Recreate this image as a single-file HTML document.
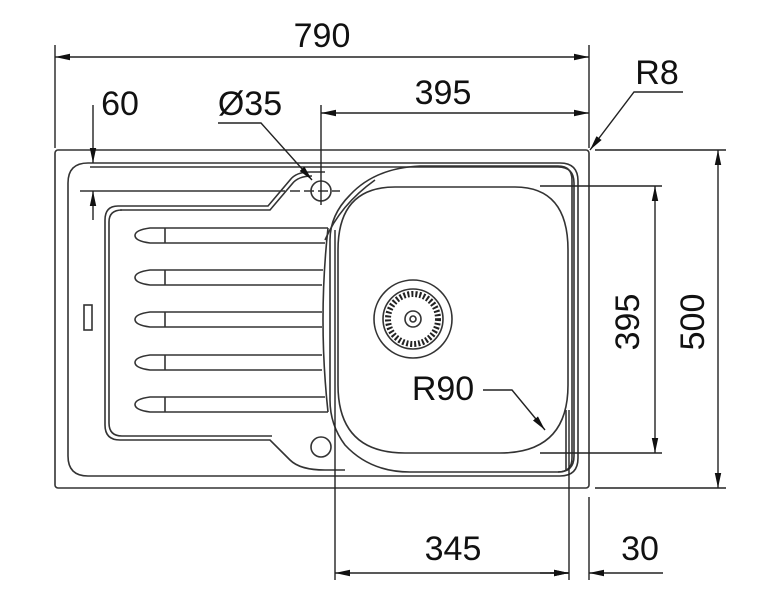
<!DOCTYPE html>
<html><head><style>
html,body{margin:0;padding:0;background:#fff;}
svg{display:block;}
text{font-family:"Liberation Sans",Arial,sans-serif;font-size:34px;fill:#111;}
</style></head><body>
<svg width="769" height="596" viewBox="0 0 769 596" xmlns="http://www.w3.org/2000/svg">
<defs>
<marker id="a" viewBox="0 0 14 6" refX="14" refY="3" markerWidth="15" markerHeight="7" markerUnits="userSpaceOnUse" orient="auto"><path d="M0,0 L14,3 L0,6 z" fill="#111"/></marker>
</defs>
<g fill="none" stroke="#333" stroke-width="1.6">
<rect x="55" y="150" width="534" height="338" rx="3"/>
<path d="M88,163 L560,163 Q578,163 578,181 L578,458 Q578,476 560,476 L88,476 Q68,476 68,456 L68,183 Q68,163 88,163 Z"/>
<path d="M90,167 L558,167 Q574,167 574,183 L574,456 Q574,472 558,472"/>
<path d="M118,206 L268,206 L290,180 Q296,172 310,172 L325,172"/>
<path d="M120,210 L270,210 L292,184 Q298,176 312,176"/>
<path d="M118,206 Q105,206 105,220 L105,425 Q105,440 120,440 L270,440 L290,460 Q300,470 325,470 L345,470"/>
<path d="M122,210 Q109,210 109,222 L109,423 Q109,436 122,436 L272,436"/>
<path d="M420,166 L558,166 Q572,166 572,180 L572,458 Q572,472 558,472 L410,472 Q370,472 345,445 Q330,425 330,400 L330,240 Q330,215 350,195 Q375,168 420,166 Z"/>
<path d="M325,240 Q340,205 375,180"/>
<path d="M395,187 L515,187 Q568,187 568,250 L568,385 Q568,453 500,453 L405,453 Q338,453 338,385 L338,250 Q338,187 395,187 Z"/>
<line x1="566" y1="410" x2="566" y2="470"/>
<g>
<path d="M165,228 L328,228 M165,243 L325,243 M165,228 L150,228 Q135,230 135,235.5 Q135,241 150,243 L165,243 M165,228 L165,243"/>
<path d="M165,270 L323,270 M165,285 L322,285 M165,270 L150,270 Q135,272 135,277.5 Q135,283 150,285 L165,285 M165,270 L165,285"/>
<path d="M165,312 L322,312 M165,327 L322,327 M165,312 L150,312 Q135,314 135,319.5 Q135,325 150,327 L165,327 M165,312 L165,327"/>
<path d="M165,355 L322,355 M165,370 L322,370 M165,355 L150,355 Q135,357 135,362.5 Q135,368 150,370 L165,370 M165,355 L165,370"/>
<path d="M165,397 L325,397 M165,412 L328,412 M165,397 L150,397 Q135,399 135,404.5 Q135,410 150,412 L165,412 M165,397 L165,412"/>
</g>
<path d="M328,228 Q318,320 328,412"/>
<rect x="84" y="305" width="8" height="25"/>
<circle cx="321" cy="191" r="10"/>
<line x1="80" y1="191" x2="285" y2="191"/>
<line x1="290" y1="191" x2="340" y2="191" stroke-dasharray="10,4"/>
<circle cx="321" cy="447" r="10"/>
<circle cx="413" cy="319" r="39"/>
<circle cx="413" cy="319" r="30"/>
<circle cx="413" cy="319" r="25" stroke="#222" stroke-width="6" stroke-dasharray="2,2"/>
<circle cx="413" cy="319" r="8"/>
<circle cx="413" cy="319" r="3"/>
</g>
<g fill="none" stroke="#222" stroke-width="1.4">
<line x1="55" y1="45" x2="55" y2="148"/>
<line x1="589" y1="45" x2="589" y2="148"/>
<line x1="70" y1="57" x2="55" y2="57" marker-end="url(#a)"/>
<line x1="70" y1="57" x2="589" y2="57" marker-end="url(#a)"/>
<line x1="321" y1="105" x2="321" y2="205"/>
<line x1="340" y1="113" x2="321" y2="113" marker-end="url(#a)"/>
<line x1="340" y1="113" x2="589" y2="113" marker-end="url(#a)"/>
<line x1="93" y1="105" x2="93" y2="163" marker-end="url(#a)"/>
<line x1="93" y1="220" x2="93" y2="191" marker-end="url(#a)"/>
<polyline points="218,123 261,123 312,180" marker-end="url(#a)"/>
<polyline points="683,92 634,92 590,150" marker-end="url(#a)"/>
<line x1="540" y1="186" x2="662" y2="186"/>
<line x1="540" y1="453" x2="662" y2="453"/>
<line x1="655" y1="320" x2="655" y2="186" marker-end="url(#a)"/>
<line x1="655" y1="320" x2="655" y2="453" marker-end="url(#a)"/>
<line x1="595" y1="150" x2="726" y2="150"/>
<line x1="595" y1="488" x2="726" y2="488"/>
<line x1="718" y1="320" x2="718" y2="150" marker-end="url(#a)"/>
<line x1="718" y1="320" x2="718" y2="488" marker-end="url(#a)"/>
<line x1="335" y1="230" x2="335" y2="580"/>
<line x1="569" y1="410" x2="569" y2="580"/>
<line x1="589" y1="497" x2="589" y2="580"/>
<line x1="450" y1="573" x2="335" y2="573" marker-end="url(#a)"/>
<line x1="450" y1="573" x2="569" y2="573" marker-end="url(#a)"/>
<line x1="540" y1="573" x2="569" y2="573"/>
<line x1="663" y1="573" x2="589" y2="573" marker-end="url(#a)"/>
<line x1="550" y1="573" x2="569" y2="573" marker-end="url(#a)"/>
<polyline points="483,390 512,390 545,430" marker-end="url(#a)"/>
</g>
<text x="322" y="47" text-anchor="middle">790</text>
<text x="120" y="115" text-anchor="middle">60</text>
<text x="250" y="115" text-anchor="middle">Ø35</text>
<text x="443" y="104" text-anchor="middle">395</text>
<text x="657" y="84" text-anchor="middle">R8</text>
<text x="443" y="400" text-anchor="middle">R90</text>
<text x="453" y="560" text-anchor="middle">345</text>
<text x="640" y="560" text-anchor="middle">30</text>
<text transform="translate(639,322) rotate(-90)" text-anchor="middle">395</text>
<text transform="translate(704,322) rotate(-90)" text-anchor="middle">500</text>
</svg>
</body></html>
